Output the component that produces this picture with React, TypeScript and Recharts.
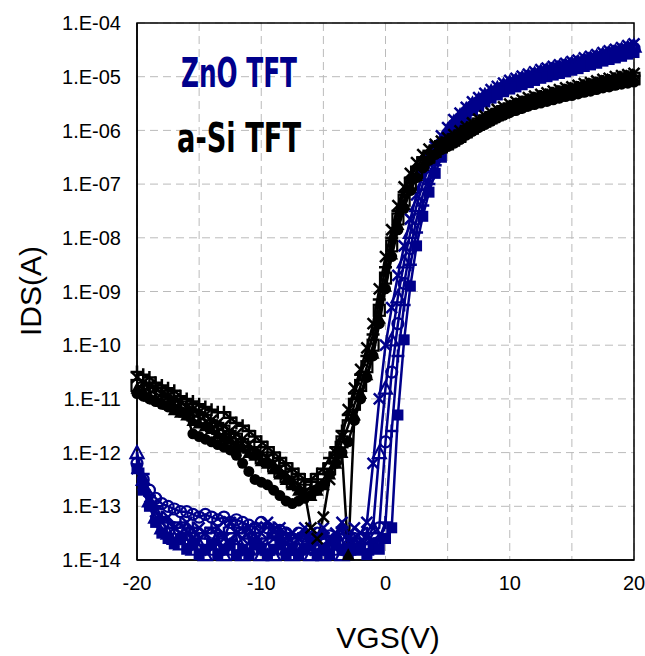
import { LineChart, Line, XAxis, YAxis, CartesianGrid, ReferenceArea } from 'recharts'

// gate voltage, V
const vgs = [
	-20, -19.5, -19, -18.5, -18, -17.5, -17, -16.5, -16, -15.5,
	-15, -14.5, -14, -13.5, -13, -12.5, -12, -11.5, -11, -10.5,
	-10, -9.5, -9, -8.5, -8, -7.5, -7, -6.5, -6, -5.5,
	-5, -4.5, -4, -3.5, -3, -2.5, -2, -1.5, -1, -0.5,
	0, 0.5, 1, 1.5, 2, 2.5, 3, 3.5, 4, 4.5,
	5, 5.5, 6, 6.5, 7, 7.5, 8, 8.5, 9, 9.5,
	10, 10.5, 11, 11.5, 12, 12.5, 13, 13.5, 14, 14.5,
	15, 15.5, 16, 16.5, 17, 17.5, 18, 18.5, 19, 19.5,
	20,
]

// log10(IDS), ZnO TFT devices
const zno1 = [
	-12.3, -12.6, -12.9, -13.1, -13.3, -13.2, -13.4, -13.5, -13.3, -13.6,
	-13.4, -13.5, -13.7, -13.4, -13.6, -13.3, -13.5, -13.6, -13.4, -13.7,
	-13.5, -13.3, -13.6, -13.4, -13.7, -13.5, -13.6, -13.4, -13.5, -13.7,
	-13.4, -13.6, -13.5, -13.3, -13.6, -13.4, -13.5, -13.3, -12.2, -11.0,
	-10.0, -9.3, -8.7, -8.15, -7.65, -7.2, -6.85, -6.55, -6.3, -6.1,
	-5.95, -5.8, -5.68, -5.57, -5.47, -5.39, -5.31, -5.24, -5.18, -5.12,
	-5.07, -5.03, -4.99, -4.95, -4.91, -4.87, -4.84, -4.81, -4.78, -4.75,
	-4.72, -4.69, -4.65, -4.62, -4.59, -4.55, -4.52, -4.49, -4.46, -4.42,
	-4.39,
]
const zno2 = [
	-12.0, -12.5, -12.9, -13.2, -13.4, -13.5, -13.6, -13.7, -13.6, -13.8,
	-13.7, -13.9, -13.8, -13.7, -13.9, -13.8, -13.6, -13.9, -13.8, -13.7,
	-13.9, -13.8, -13.9, -13.7, -13.8, -13.9, -13.8, -13.7, -13.9, -13.8,
	-13.9, -13.7, -13.8, -13.9, -13.8, -13.7, -13.8, -13.6, -13.4, -12.0,
	-10.8, -9.9, -9.1, -8.45, -7.9, -7.4, -7.0, -6.68, -6.4, -6.18,
	-6.0, -5.85, -5.73, -5.61, -5.51, -5.43, -5.35, -5.28, -5.22, -5.16,
	-5.11, -5.07, -5.03, -4.99, -4.95, -4.91, -4.88, -4.85, -4.82, -4.79,
	-4.76, -4.73, -4.69, -4.66, -4.63, -4.59, -4.56, -4.53, -4.5, -4.46,
	-4.43,
]
const zno3 = [
	-12.2, -12.5, -12.7, -12.85, -12.95, -13.0, -13.05, -13.1, -13.1, -13.15,
	-13.2, -13.15, -13.2, -13.25, -13.2, -13.3, -13.25, -13.3, -13.35, -13.4,
	-13.3, -13.4, -13.5, -13.45, -13.5, -13.6, -13.5, -13.55, -13.6, -13.5,
	-13.6, -13.55, -13.6, -13.5, -13.65, -13.6, -13.6, -13.7, -13.5, -13.4,
	-11.8, -10.5, -9.6, -8.85, -8.2, -7.65, -7.2, -6.85, -6.52, -6.27,
	-6.06, -5.9, -5.77, -5.65, -5.55, -5.47, -5.39, -5.32, -5.26, -5.2,
	-5.15, -5.11, -5.07, -5.03, -4.99, -4.95, -4.92, -4.89, -4.86, -4.83,
	-4.8, -4.77, -4.73, -4.7, -4.67, -4.63, -4.6, -4.57, -4.54, -4.5,
	-4.47,
]
const zno4 = [
	-12.1, -12.4, -12.8, -13.0, -13.2, -13.3, -13.4, -13.3, -13.5, -13.4,
	-13.6, -13.5, -13.4, -13.6, -13.5, -13.7, -13.5, -13.4, -13.6, -13.5,
	-13.7, -13.6, -13.4, -13.6, -13.5, -13.7, -13.6, -13.5, -13.7, -13.6,
	-13.5, -13.7, -13.6, -13.4, -13.7, -13.6, -13.7, -13.5, -13.8, -13.6,
	-13.3, -11.6, -10.2, -9.25, -8.5, -7.9, -7.4, -7.0, -6.65, -6.37,
	-6.13, -5.95, -5.81, -5.69, -5.59, -5.51, -5.43, -5.36, -5.3, -5.24,
	-5.19, -5.15, -5.11, -5.07, -5.03, -4.99, -4.96, -4.93, -4.9, -4.87,
	-4.84, -4.81, -4.77, -4.74, -4.71, -4.67, -4.64, -4.61, -4.58, -4.54,
	-4.51,
]
const zno5 = [
	-12.3, -12.7, -13.0, -13.3, -13.5, -13.6, -13.7, -13.6, -13.8, -13.7,
	-13.9, -13.8, -13.7, -13.9, -13.8, -13.7, -13.9, -13.8, -13.9, -13.7,
	-13.8, -13.9, -13.8, -13.7, -13.9, -13.8, -13.9, -13.8, -13.7, -13.9,
	-13.8, -13.9, -13.7, -13.8, -13.9, -13.8, -13.8, -13.9, -13.7, -13.8,
	-13.6, -13.4, -11.3, -9.9, -8.9, -8.15, -7.6, -7.15, -6.8, -6.5,
	-6.22, -6.0, -5.86, -5.73, -5.63, -5.55, -5.47, -5.4, -5.34, -5.28,
	-5.23, -5.19, -5.15, -5.11, -5.07, -5.03, -5.0, -4.97, -4.94, -4.91,
	-4.88, -4.85, -4.81, -4.78, -4.75, -4.71, -4.68, -4.65, -4.62, -4.58,
	-4.55,
]

// log10(IDS), a-Si TFT devices
const asi1 = [
	-10.9, -10.95, -11.0, -11.05, -11.1, -11.15, -11.2, -11.25, -11.3, -11.65,
	-11.7, -11.75, -11.8, -11.85, -11.9, -11.95, -12.05, -12.2, -12.35, -12.5,
	-12.55, -12.6, -12.7, -12.8, -12.9, -12.95, -12.9, -12.85, -12.8, -12.7,
	-12.6, -12.4, -12.2, -12.0, -11.8, -11.4, -11.0, -10.6, -10.2, -9.6,
	-8.95, -8.35, -7.85, -7.45, -7.12, -6.88, -6.7, -6.56, -6.45, -6.36,
	-6.3, -6.24, -6.17, -6.09, -6.02, -5.95, -5.89, -5.83, -5.77, -5.72,
	-5.67, -5.63, -5.59, -5.55, -5.52, -5.49, -5.46, -5.43, -5.4, -5.37,
	-5.35, -5.32, -5.29, -5.27, -5.24, -5.21, -5.19, -5.16, -5.14, -5.12,
	-5.1,
]
const asi2 = [
	-10.5, -10.55, -10.6, -10.7, -10.75, -10.8, -10.85, -10.95, -11.0, -11.05,
	-11.1, -11.15, -11.2, -11.25, -11.25, -11.35, -11.45, -11.5, -11.6, -11.7,
	-11.8, -11.9, -12.0, -12.1, -12.2, -12.3, -12.4, -12.5, -12.5, -12.4,
	-12.3, -12.1, -11.9, -11.6, -11.3, -10.9, -10.55, -10.2, -9.8, -9.15,
	-8.55, -8.0, -7.5, -7.15, -6.88, -6.68, -6.52, -6.4, -6.3, -6.23,
	-6.18, -6.12, -6.05, -5.97, -5.9, -5.83, -5.77, -5.71, -5.65, -5.6,
	-5.55, -5.51, -5.47, -5.43, -5.4, -5.37, -5.34, -5.31, -5.28, -5.25,
	-5.23, -5.2, -5.17, -5.15, -5.12, -5.09, -5.07, -5.04, -5.02, -5.0,
	-4.98,
]
const asi3 = [
	-10.6, -10.7, -10.75, -10.8, -10.9, -10.95, -11.0, -11.05, -11.15, -11.2,
	-11.25, -11.3, -11.4, -11.45, -11.5, -11.6, -11.65, -11.75, -11.85, -11.95,
	-12.0, -12.1, -12.2, -12.3, -12.4, -12.5, -12.6, -12.75, -13.4, -13.6,
	-13.2, -12.5, -12.0, -11.7, -11.2, -10.8, -10.45, -10.05, -9.6, -8.95,
	-8.35, -7.85, -7.4, -7.05, -6.8, -6.6, -6.45, -6.35, -6.26, -6.2,
	-6.14, -6.08, -6.01, -5.93, -5.86, -5.79, -5.73, -5.67, -5.61, -5.56,
	-5.51, -5.47, -5.43, -5.39, -5.36, -5.33, -5.3, -5.27, -5.24, -5.21,
	-5.19, -5.16, -5.13, -5.11, -5.08, -5.05, -5.03, -5.0, -4.98, -4.96,
	-4.94,
]
const asi4 = [
	-10.75, -10.8, -10.85, -10.9, -10.95, -11.0, -11.1, -11.15, -11.2, -11.3,
	-11.35, -11.4, -11.5, -11.55, -11.6, -11.7, -11.75, -11.85, -11.9, -12.0,
	-12.1, -12.15, -12.25, -12.35, -12.45, -12.55, -12.6, -12.7, -12.65, -12.6,
	-12.5, -12.3, -12.1, -11.8, -11.5, -11.1, -10.75, -10.4, -10.0, -9.35,
	-8.75, -8.15, -7.65, -7.3, -7.0, -6.78, -6.6, -6.48, -6.38, -6.3,
	-6.24, -6.17, -6.1, -6.02, -5.95, -5.88, -5.82, -5.76, -5.7, -5.65,
	-5.6, -5.56, -5.52, -5.48, -5.45, -5.42, -5.39, -5.36, -5.33, -5.3,
	-5.28, -5.25, -5.22, -5.2, -5.17, -5.14, -5.12, -5.09, -5.07, -5.05,
	-5.03,
]
const asi5 = [
	-10.8, -10.85, -10.95, -11.0, -11.05, -11.1, -11.2, -11.25, -11.3, -11.4,
	-11.45, -11.5, -11.55, -11.65, -11.7, -11.75, -11.85, -11.9, -12.0, -12.05,
	-12.15, -12.2, -12.3, -12.4, -12.5, -12.6, -12.7, -12.75, -12.8, -12.7,
	-12.6, -12.4, -12.2, -12.0, -13.9, -11.3, -10.9, -10.55, -10.15, -9.5,
	-8.9, -8.3, -7.75, -7.38, -7.06, -6.84, -6.65, -6.52, -6.41, -6.33,
	-6.27, -6.2, -6.13, -6.05, -5.98, -5.91, -5.85, -5.79, -5.73, -5.68,
	-5.63, -5.59, -5.55, -5.51, -5.48, -5.45, -5.42, -5.39, -5.36, -5.33,
	-5.31, -5.28, -5.25, -5.23, -5.2, -5.17, -5.15, -5.12, -5.1, -5.08,
	-5.06,
]

const xTicks = [-20, -15, -10, -5, 0, 5, 10, 15, 20]
const yTicks = [1e-14, 1e-13, 1e-12, 1e-11, 1e-10, 1e-9, 1e-8, 1e-7, 1e-6, 1e-5, 1e-4]

const BLUE = '#00008b'
const BLACK = '#000000'

const series = [
	{ key: 'zno1', vals: zno1, color: BLUE, shape: 'x' },
	{ key: 'zno2', vals: zno2, color: BLUE, shape: 'triangleOpen' },
	{ key: 'zno3', vals: zno3, color: BLUE, shape: 'circleOpen' },
	{ key: 'zno4', vals: zno4, color: BLUE, shape: 'plus' },
	{ key: 'zno5', vals: zno5, color: BLUE, shape: 'square' },
	{ key: 'asi1', vals: asi1, color: BLACK, shape: 'circle' },
	{ key: 'asi2', vals: asi2, color: BLACK, shape: 'plus' },
	{ key: 'asi3', vals: asi3, color: BLACK, shape: 'x' },
	{ key: 'asi4', vals: asi4, color: BLACK, shape: 'squareOpen' },
	{ key: 'asi5', vals: asi5, color: BLACK, shape: 'triangle' },
]

const rows = vgs.map((v, i) => {
	const row: Record<string, number> = { v }
	series.forEach(s => {
		row[s.key] = Math.pow(10, s.vals[i])
	})
	return row
})

function Marker({ cx, cy, shape, color }: { cx: number; cy: number; shape: string; color: string }) {
	if (cx == null || cy == null) return <g />
	const s = 5.5
	const w = 2.2
	switch (shape) {
		case 'square':
			return <rect x={cx - s} y={cy - s} width={2 * s} height={2 * s} fill={color} />
		case 'squareOpen':
			return <rect x={cx - s} y={cy - s} width={2 * s} height={2 * s} fill="none" stroke={color} strokeWidth={w} />
		case 'circle':
			return <circle cx={cx} cy={cy} r={s} fill={color} />
		case 'circleOpen':
			return <circle cx={cx} cy={cy} r={s} fill="none" stroke={color} strokeWidth={w} />
		case 'triangle':
			return <polygon points={`${cx},${cy - s - 1} ${cx + s + 1},${cy + s} ${cx - s - 1},${cy + s}`} fill={color} />
		case 'triangleOpen':
			return (
				<polygon
					points={`${cx},${cy - s - 1} ${cx + s + 1},${cy + s} ${cx - s - 1},${cy + s}`}
					fill="none"
					stroke={color}
					strokeWidth={w}
				/>
			)
		case 'plus':
			return (
				<path d={`M${cx - s - 1},${cy}H${cx + s + 1}M${cx},${cy - s - 1}V${cy + s + 1}`} stroke={color} strokeWidth={2.5} />
			)
		default:
			return <path d={`M${cx - s},${cy - s}L${cx + s},${cy + s}M${cx - s},${cy + s}L${cx + s},${cy - s}`} stroke={color} strokeWidth={2.5} />
	}
}

const tickFont = { fontFamily: 'Liberation Sans, Arial, sans-serif', fontSize: 20, fill: '#000' }
const yFmt = (v: number) => '1.E-' + String(Math.round(-Math.log10(v))).padStart(2, '0')
const xFmt = (v: number) => (v % 10 === 0 ? String(v) : '')

export default function App() {
	return (
		<div style={{ position: 'absolute', left: 0, top: 0, width: 645, height: 656, background: '#fff' }}>
			<LineChart width={645} height={656} data={rows} margin={{ top: 23, right: 11, left: 0, bottom: 0 }}>
				<CartesianGrid stroke="#bbbbbb" strokeDasharray="8 5" />
				<XAxis
					dataKey="v"
					type="number"
					domain={[-20, 20]}
					ticks={xTicks}
					interval={0}
					tickFormatter={xFmt}
					tickLine={false}
					tickSize={0}
					tickMargin={16}
					axisLine={{ stroke: '#000', strokeWidth: 1.5 }}
					height={96}
					tick={tickFont}
				/>
				<YAxis
					type="number"
					scale="log"
					domain={[1e-14, 1e-4]}
					ticks={yTicks}
					interval={0}
					tickFormatter={yFmt}
					tickLine={false}
					tickSize={0}
					tickMargin={16}
					axisLine={{ stroke: '#000', strokeWidth: 1.5 }}
					width={137}
					tick={tickFont}
				/>
				<ReferenceArea x1={-20} x2={20} y1={1e-14} y2={1e-4} fill="none" stroke="#000" strokeWidth={1.5} />
				{series.map(s => (
					<Line
						key={s.key}
						dataKey={s.key}
						type="linear"
						stroke={s.color}
						strokeWidth={2.5}
						isAnimationActive={false}
						dot={(p: any) => <Marker key={`${s.key}-${p.index}`} cx={p.cx} cy={p.cy} shape={s.shape} color={s.color} />}
					/>
				))}
			</LineChart>
			<svg width={645} height={656} style={{ position: 'absolute', left: 0, top: 0, pointerEvents: 'none' }}>
				<text
					x={181}
					y={87}
					fill={BLUE}
					fontSize={40}
					fontWeight="bold"
					fontFamily="'Liberation Sans Narrow', 'DejaVu Sans Condensed', sans-serif"
					textLength={116}
					lengthAdjust="spacingAndGlyphs"
				>
					ZnO TFT
				</text>
				<text
					x={177}
					y={152}
					fill={BLACK}
					fontSize={40}
					fontWeight="bold"
					fontFamily="'Liberation Sans Narrow', 'DejaVu Sans Condensed', sans-serif"
					textLength={124}
					lengthAdjust="spacingAndGlyphs"
				>
					a-Si TFT
				</text>
				<text
					x={30}
					y={291}
					transform="rotate(-90 30 291)"
					textAnchor="middle"
					dominantBaseline="central"
					fontSize={30}
					fontFamily="Liberation Sans, Arial, sans-serif"
				>
					IDS(A)
				</text>
				<text x={388} y={637} textAnchor="middle" dominantBaseline="central" fontSize={30} fontFamily="Liberation Sans, Arial, sans-serif">
					VGS(V)
				</text>
			</svg>
		</div>
	)
}
